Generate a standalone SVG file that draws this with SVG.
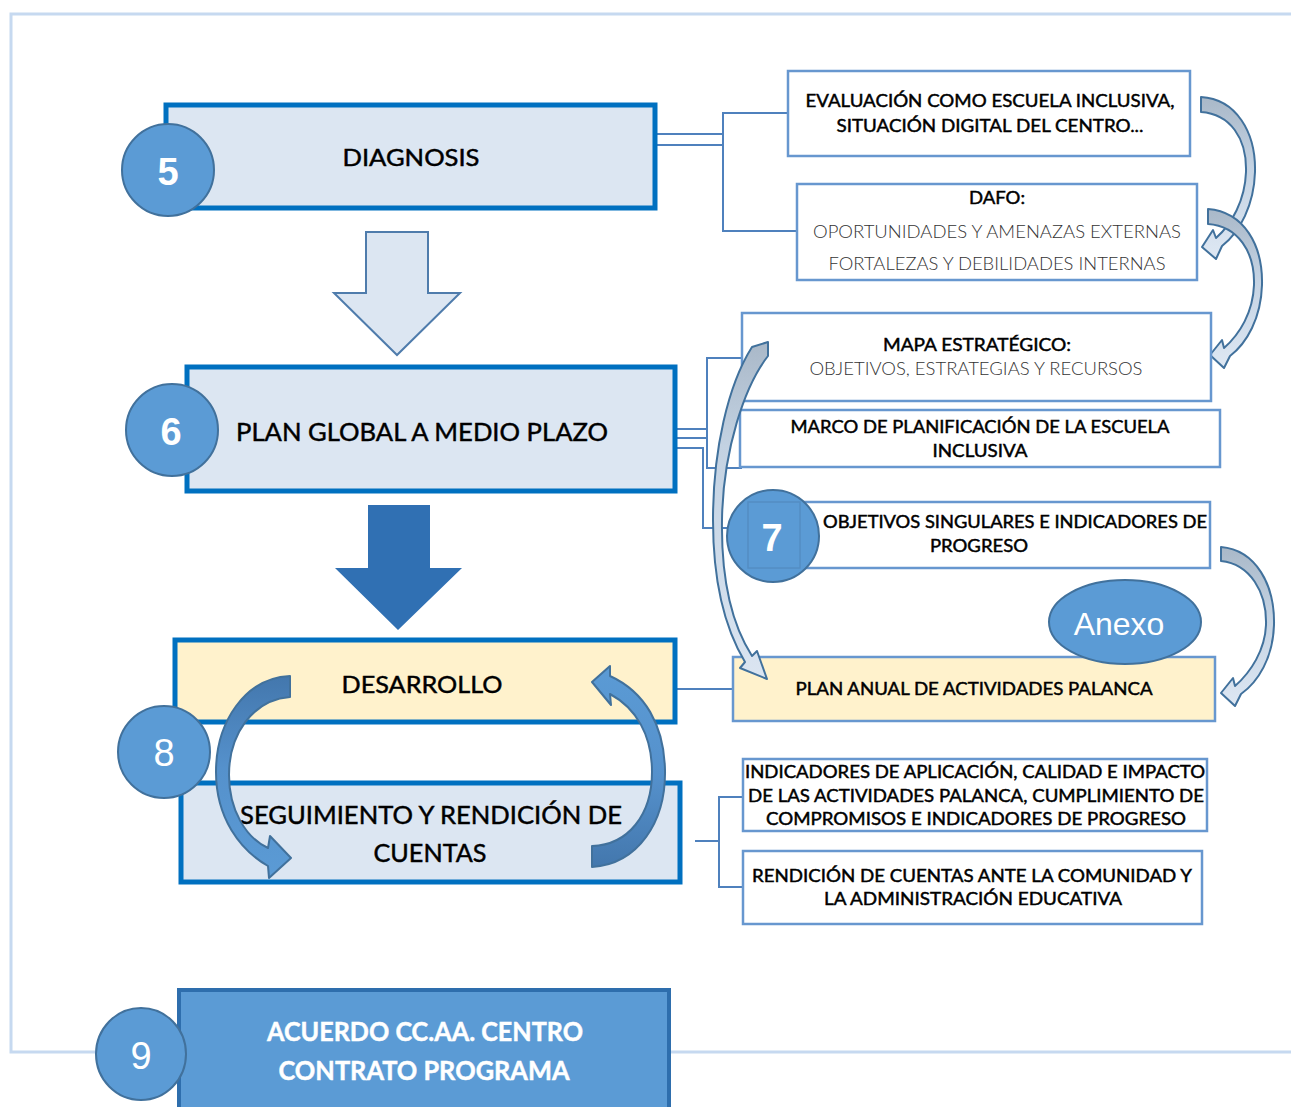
<svg xmlns="http://www.w3.org/2000/svg" width="1291" height="1107" viewBox="0 0 1291 1107">
  <style>
    .main { stroke: #0070c0; stroke-width: 5; }
    .side { fill: #ffffff; stroke: #6797cf; stroke-width: 2.5; }
    .badge { fill: #5b9bd5; stroke: #41719c; stroke-width: 2; }
    .num { font-family: "Liberation Sans", Arial, sans-serif; font-size: 38px; fill: #ffffff; text-anchor: middle; }
    .t { font-family: Lato, "Liberation Sans", sans-serif; fill: #000000; stroke: #000000; stroke-width: 0.45; text-anchor: middle; }
    .small { font-size: 17px; }
    .light { font-weight: 300; fill: #333333; stroke: none; }
    .inv { fill: #ffffff; stroke: #ffffff; }
    .link { fill: none; stroke: #4f81bd; stroke-width: 2; }
    .curl { stroke: #41719c; stroke-width: 2; stroke-linejoin: round; }
  </style>
  <defs>
    <linearGradient id="paleA" gradientUnits="userSpaceOnUse" x1="0" y1="97" x2="0" y2="250">
      <stop offset="0" stop-color="#a9b8c8"/><stop offset="0.45" stop-color="#c3d2e2"/><stop offset="1" stop-color="#dce6f2"/>
    </linearGradient>
    <linearGradient id="paleB" gradientUnits="userSpaceOnUse" x1="0" y1="209" x2="0" y2="360">
      <stop offset="0" stop-color="#a9b8c8"/><stop offset="0.45" stop-color="#c3d2e2"/><stop offset="1" stop-color="#dce6f2"/>
    </linearGradient>
    <linearGradient id="paleC" gradientUnits="userSpaceOnUse" x1="0" y1="547" x2="0" y2="700">
      <stop offset="0" stop-color="#a9b8c8"/><stop offset="0.45" stop-color="#c3d2e2"/><stop offset="1" stop-color="#dce6f2"/>
    </linearGradient>
    <linearGradient id="paleLong" gradientUnits="userSpaceOnUse" x1="0" y1="342" x2="0" y2="690">
      <stop offset="0" stop-color="#a9b8c8"/><stop offset="0.3" stop-color="#c3d2e2"/><stop offset="1" stop-color="#dce6f2"/>
    </linearGradient>
    <linearGradient id="cycleDown" gradientUnits="userSpaceOnUse" x1="0" y1="676" x2="0" y2="880">
      <stop offset="0" stop-color="#4377ad"/><stop offset="0.45" stop-color="#5591cc"/><stop offset="1" stop-color="#5b9bd5"/>
    </linearGradient>
    <linearGradient id="cycleUp" gradientUnits="userSpaceOnUse" x1="0" y1="867" x2="0" y2="664">
      <stop offset="0" stop-color="#4377ad"/><stop offset="0.45" stop-color="#5591cc"/><stop offset="1" stop-color="#5b9bd5"/>
    </linearGradient>
  </defs>

  <!-- page frame -->
  <g id="frame" fill="none" stroke="#c6d9f0" stroke-width="3">
    <path d="M1291,14 H11 V1052 H1291"/>
  </g>

  <!-- connectors -->
  <g id="connectors">
    <!-- diagnosis to its two detail boxes -->
    <path class="link" d="M655,134 H723 M655,145 H723"/>
    <path class="link" d="M788,113 H723 V231 H797"/>
    <!-- global plan to its detail boxes -->
    <path class="link" d="M675,429 H707 M675,438 H707 M742,358 H707 V468 H742"/>
    <path class="link" d="M675,448 H703 V528 H728"/>
    <!-- development to annual plan -->
    <path class="link" d="M675,689 H733"/>
    <!-- follow-up to its detail boxes -->
    <path class="link" d="M695,841 H719 M743,797 H719 V887 H743"/>

    <!-- big block arrows between stages -->
    <polygon points="366,232 428,232 428,293 460,293 397,355 334,293 366,293" fill="#dce6f2" stroke="#4f7cac" stroke-width="2"/>
    <polygon points="368,505 430,505 430,568 462,568 398,630 335,568 368,568" fill="#3070b3"/>

    <!-- curved arrows on the right side -->
    <path class="curl" fill="url(#paleA)" d="M1201,97 C1236,99 1256,132 1255,172 C1254,205 1240,232 1222,246 L1216,259 L1202,247 L1213,230 L1216,238 C1232,224 1245,200 1246,172 C1247,138 1230,114 1201,112 Z"/>
    <path class="curl" fill="url(#paleB)" d="M1208,209 C1244,212 1263,245 1262,285 C1261,318 1247,343 1230,356 L1224,368 L1210,355 L1222,340 L1224,348 C1240,334 1253,312 1254,285 C1255,252 1238,226 1208,224 Z"/>
    <path class="curl" fill="url(#paleC)" d="M1221,547 C1256,550 1275,585 1274,625 C1273,658 1258,682 1241,694 L1235,706 L1221,693 L1233,678 L1235,686 C1251,672 1265,650 1266,625 C1267,592 1250,564 1221,561 Z"/>
  </g>

  <!-- stage 5 -->
  <g id="diagnosis">
    <rect class="main" x="166" y="105" width="489" height="103" fill="#dce6f2"/>
    <text class="t" x="411" y="166" font-size="23" textLength="137" lengthAdjust="spacingAndGlyphs">DIAGNOSIS</text>
    <circle class="badge" cx="168" cy="170" r="46"/>
    <text class="num" x="168" y="185" font-weight="bold">5</text>
  </g>

  <g id="evaluacion">
    <rect class="side" x="788" y="71" width="402" height="85"/>
    <text class="t small" x="990" y="107" textLength="369" lengthAdjust="spacingAndGlyphs">EVALUACIÓN COMO ESCUELA INCLUSIVA,</text>
    <text class="t small" x="990" y="132" textLength="307" lengthAdjust="spacingAndGlyphs">SITUACIÓN DIGITAL DEL CENTRO...</text>
  </g>

  <g id="dafo">
    <rect class="side" x="797" y="184" width="400" height="96"/>
    <text class="t small" x="997" y="204" textLength="56" lengthAdjust="spacingAndGlyphs">DAFO:</text>
    <text class="t small light" x="997" y="238" textLength="368" lengthAdjust="spacingAndGlyphs">OPORTUNIDADES Y AMENAZAS EXTERNAS</text>
    <text class="t small light" x="997" y="270" textLength="337" lengthAdjust="spacingAndGlyphs">FORTALEZAS Y DEBILIDADES INTERNAS</text>
  </g>

  <!-- stage 6 -->
  <g id="plan-global">
    <rect class="main" x="187" y="367" width="488" height="124" fill="#dce6f2"/>
    <text class="t" x="422" y="441" font-size="25" textLength="372" lengthAdjust="spacingAndGlyphs">PLAN GLOBAL A MEDIO PLAZO</text>
    <circle class="badge" cx="172" cy="430" r="46"/>
    <text class="num" x="171" y="445" font-weight="bold">6</text>
  </g>

  <g id="mapa">
    <rect class="side" x="742" y="313" width="469" height="88"/>
    <text class="t small" x="977" y="351" textLength="188" lengthAdjust="spacingAndGlyphs">MAPA ESTRATÉGICO:</text>
    <text class="t small light" x="976" y="375" textLength="333" lengthAdjust="spacingAndGlyphs">OBJETIVOS, ESTRATEGIAS Y RECURSOS</text>
  </g>

  <g id="marco">
    <rect class="side" x="740" y="410" width="480" height="57"/>
    <text class="t small" x="980" y="433" textLength="379" lengthAdjust="spacingAndGlyphs">MARCO DE PLANIFICACIÓN DE LA ESCUELA</text>
    <text class="t small" x="980" y="457" textLength="95" lengthAdjust="spacingAndGlyphs">INCLUSIVA</text>
  </g>

  <!-- stage 7 -->
  <g id="objetivos">
    <rect class="side" x="748" y="502" width="462" height="66"/>
    <text class="t small" x="1015" y="528" textLength="384" lengthAdjust="spacingAndGlyphs">OBJETIVOS SINGULARES E INDICADORES DE</text>
    <text class="t small" x="979" y="552" textLength="98" lengthAdjust="spacingAndGlyphs">PROGRESO</text>
    <circle class="badge" cx="773" cy="536" r="46"/>
    <rect x="748" y="502" width="52" height="66" fill="none" stroke="#41719c" stroke-opacity="0.3" stroke-width="1.5"/>
    <text class="num" x="772" y="551" font-weight="bold">7</text>
  </g>

  <g id="plan-anual">
    <rect x="733" y="657" width="482" height="64" fill="#fff2cc" stroke="#6797cf" stroke-width="2.5"/>
    <text class="t small" x="974" y="695" textLength="357" lengthAdjust="spacingAndGlyphs">PLAN ANUAL DE ACTIVIDADES PALANCA</text>
  </g>

  <g id="anexo">
    <ellipse class="badge" cx="1125" cy="622" rx="76" ry="42"/>
    <text x="1119" y="635" font-family="'Liberation Sans', Arial, sans-serif" font-size="32" fill="#ffffff" text-anchor="middle">Anexo</text>
  </g>

  <!-- long arrow from the strategic map down to the annual plan -->
  <g id="long-arrow">
    <path class="curl" fill="url(#paleLong)" d="M752,347 L768,342 L768,356 C745,385 723,450 722,520 C721,585 734,628 752,656 L757,651 L767,679 L740,668 L745,662 C727,632 713,588 713,520 C713,450 728,385 752,347 Z"/>
  </g>

  <!-- stage 8 -->
  <g id="desarrollo">
    <rect class="main" x="175" y="640" width="500" height="82" fill="#fff2cc"/>
    <text class="t" x="422" y="693" font-size="24" textLength="161" lengthAdjust="spacingAndGlyphs">DESARROLLO</text>
  </g>

  <g id="seguimiento">
    <rect class="main" x="181" y="783" width="499" height="99" fill="#dce6f2"/>
    <text class="t" x="431" y="824" font-size="25" textLength="382" lengthAdjust="spacingAndGlyphs">SEGUIMIENTO Y RENDICIÓN DE</text>
    <text class="t" x="430" y="862" font-size="25" textLength="113" lengthAdjust="spacingAndGlyphs">CUENTAS</text>
  </g>

  <g id="cycle">
    <path class="curl" fill="url(#cycleDown)" d="M290,676 C245,678 216,722 216,772 C216,818 240,850 268,866 L269,878 L291,858 L270,836 L268,848 C246,838 229,810 229,775 C229,735 252,700 290,697 Z"/>
    <path class="curl" fill="url(#cycleUp)" d="M592,867 C638,864 666,822 665,770 C664,725 645,692 610,676 L610,666 L592,682 L611,705 L610,694 C636,708 652,735 652,772 C652,815 628,845 592,846 Z"/>
  </g>

  <g id="badge-8">
    <circle class="badge" cx="164" cy="752" r="46"/>
    <text class="num" x="164" y="766">8</text>
  </g>

  <g id="indicadores">
    <rect class="side" x="743" y="759" width="464" height="72"/>
    <text class="t small" x="975" y="778" textLength="460" lengthAdjust="spacingAndGlyphs">INDICADORES DE APLICACIÓN, CALIDAD E IMPACTO</text>
    <text class="t small" x="976" y="802" textLength="456" lengthAdjust="spacingAndGlyphs">DE LAS ACTIVIDADES PALANCA, CUMPLIMIENTO DE</text>
    <text class="t small" x="976" y="825" textLength="420" lengthAdjust="spacingAndGlyphs">COMPROMISOS  E INDICADORES DE PROGRESO</text>
  </g>

  <g id="rendicion">
    <rect class="side" x="743" y="851" width="459" height="73"/>
    <text class="t small" x="972" y="882" textLength="440" lengthAdjust="spacingAndGlyphs">RENDICIÓN DE CUENTAS ANTE LA COMUNIDAD  Y</text>
    <text class="t small" x="973" y="905" textLength="298" lengthAdjust="spacingAndGlyphs">LA ADMINISTRACIÓN EDUCATIVA</text>
  </g>

  <!-- stage 9 -->
  <g id="acuerdo">
    <rect x="179" y="990" width="490" height="125" fill="#5b9bd5" stroke="#2e6ead" stroke-width="4"/>
    <text class="t inv" x="425" y="1041" font-size="26" font-weight="bold" textLength="316" lengthAdjust="spacingAndGlyphs">ACUERDO CC.AA. CENTRO</text>
    <text class="t inv" x="424" y="1080" font-size="26" font-weight="bold" textLength="291" lengthAdjust="spacingAndGlyphs">CONTRATO PROGRAMA</text>
    <ellipse class="badge" cx="141" cy="1054" rx="45" ry="46"/>
    <text class="num" x="141" y="1069">9</text>
  </g>
</svg>
